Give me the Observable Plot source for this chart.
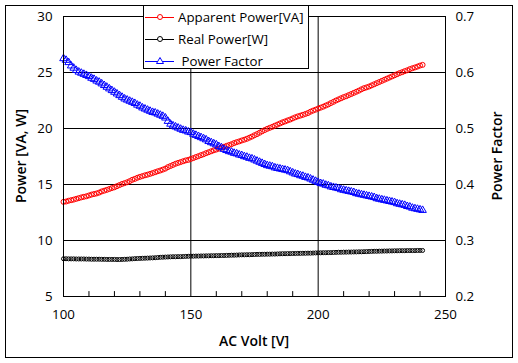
<!DOCTYPE html>
<html>
<head>
<meta charset="utf-8">
<script src="https://cdn.jsdelivr.net/npm/d3@7"></script>
<script src="https://cdn.jsdelivr.net/npm/@observablehq/plot@0.6"></script>
<style>
  body { margin: 0; background: #fff; font-family: "Open Sans", sans-serif; }
  #wrap { position: relative; width: 518px; height: 363px; }
  #border { position: absolute; left: 5px; top: 5px; width: 506px; height: 351px; border: 1px solid #000; pointer-events: none; }
  .title { position: absolute; font-size: 14px; font-weight: 600; color: #000; white-space: nowrap; }
  #legend { position: absolute; left: 143px; top: 5px; width: 164px; height: 62px; border: 1px solid #000; background: #fff; }
  .lg { position: absolute; left: 0; height: 20px; display: flex; align-items: center; font-size: 13.3px; white-space: nowrap; }
</style>
</head>
<body>
<div id="wrap">
  <div id="chart"></div>
  <div id="border"></div>
  <div class="title" id="xt" style="left:0;width:508px;text-align:center;top:331px;">AC Volt [V]</div>
  <div class="title" id="yl" style="left:20px;top:156px;transform:translate(-50%,-50%) rotate(-90deg);">Power [VA, W]</div>
  <div class="title" id="yr" style="left:496px;top:156px;transform:translate(-50%,-50%) rotate(-90deg);">Power Factor</div>
  <div id="legend"></div>
</div>
<script>
const volts = [100,101,102,103,104,105,106,107,108,109,110,111,112,113,114,115,116,117,118,119,120,121,122,123,124,125,126,127,128,129,130,131,132,133,134,135,136,137,138,139,140,141,142,143,144,145,146,147,148,149,150,151,152,153,154,155,156,157,158,159,160,161,162,163,164,165,166,167,168,169,170,171,172,173,174,175,176,177,178,179,180,181,182,183,184,185,186,187,188,189,190,191,192,193,194,195,196,197,198,199,200,201,202,203,204,205,206,207,208,209,210,211,212,213,214,215,216,217,218,219,220,221,222,223,224,225,226,227,228,229,230,231,232,233,234,235,236,237,238,239,240,241];
const apparentPower = [13.45,13.48,13.55,13.6,13.65,13.72,13.78,13.85,13.9,13.95,14.02,14.1,14.15,14.2,14.28,14.38,14.45,14.52,14.6,14.68,14.75,14.85,14.95,15.05,15.12,15.2,15.3,15.42,15.5,15.6,15.68,15.75,15.82,15.88,15.95,16.02,16.1,16.18,16.25,16.33,16.42,16.55,16.65,16.75,16.85,16.93,17.0,17.08,17.15,17.2,17.28,17.36,17.45,17.53,17.62,17.7,17.8,17.88,17.97,18.05,18.12,18.2,18.28,18.37,18.45,18.52,18.6,18.7,18.78,18.85,18.93,19.0,19.08,19.18,19.28,19.4,19.5,19.62,19.75,19.86,19.97,20.06,20.15,20.25,20.35,20.45,20.55,20.63,20.72,20.8,20.9,21.0,21.08,21.15,21.22,21.3,21.38,21.5,21.6,21.68,21.78,21.86,21.95,22.05,22.15,22.27,22.38,22.5,22.6,22.7,22.8,22.88,22.98,23.08,23.18,23.28,23.38,23.5,23.6,23.67,23.75,23.85,23.95,24.05,24.15,24.25,24.35,24.45,24.55,24.65,24.75,24.85,24.95,25.03,25.12,25.2,25.3,25.38,25.45,25.53,25.62,25.68];
const realPower = [8.37,8.37,8.36,8.36,8.36,8.35,8.35,8.35,8.35,8.34,8.34,8.33,8.33,8.33,8.33,8.32,8.32,8.31,8.31,8.31,8.31,8.30,8.30,8.31,8.32,8.33,8.35,8.36,8.38,8.39,8.40,8.41,8.42,8.43,8.44,8.45,8.46,8.48,8.50,8.51,8.52,8.53,8.54,8.55,8.55,8.56,8.56,8.57,8.58,8.59,8.60,8.60,8.61,8.61,8.62,8.62,8.63,8.63,8.64,8.64,8.65,8.65,8.66,8.66,8.67,8.68,8.69,8.69,8.70,8.71,8.72,8.72,8.73,8.73,8.74,8.75,8.76,8.76,8.77,8.77,8.78,8.78,8.79,8.79,8.80,8.81,8.82,8.82,8.83,8.83,8.84,8.84,8.85,8.85,8.86,8.86,8.87,8.87,8.88,8.89,8.90,8.90,8.91,8.91,8.92,8.92,8.93,8.94,8.95,8.95,8.96,8.96,8.97,8.97,8.98,8.98,8.99,8.99,9.00,9.01,9.02,9.03,9.04,9.04,9.05,9.05,9.06,9.06,9.07,9.07,9.08,9.08,9.09,9.09,9.09,9.10,9.10,9.10,9.10,9.11,9.11,9.11];
const powerFactor = [0.625,0.622,0.618,0.612,0.608,0.604,0.601,0.599,0.597,0.595,0.593,0.590,0.588,0.585,0.583,0.580,0.577,0.574,0.571,0.568,0.565,0.562,0.559,0.556,0.553,0.551,0.549,0.547,0.545,0.542,0.540,0.537,0.535,0.533,0.531,0.529,0.528,0.526,0.524,0.522,0.519,0.513,0.508,0.505,0.503,0.501,0.499,0.497,0.496,0.494,0.493,0.490,0.488,0.486,0.484,0.482,0.480,0.477,0.475,0.473,0.471,0.468,0.466,0.463,0.461,0.459,0.458,0.456,0.455,0.453,0.452,0.450,0.449,0.447,0.446,0.444,0.442,0.440,0.438,0.436,0.434,0.433,0.432,0.430,0.429,0.428,0.427,0.426,0.425,0.423,0.421,0.419,0.418,0.416,0.415,0.413,0.412,0.410,0.408,0.406,0.404,0.402,0.401,0.399,0.398,0.396,0.395,0.394,0.393,0.391,0.390,0.389,0.388,0.387,0.386,0.384,0.383,0.382,0.381,0.380,0.379,0.378,0.377,0.375,0.374,0.373,0.372,0.371,0.370,0.369,0.368,0.366,0.365,0.364,0.363,0.361,0.360,0.358,0.357,0.356,0.355,0.354];

const xTicks = [100,150,200,250];
const xMinorTicks = [110,120,130,140,160,170,180,190,210,220,230,240];
const xGrid = [150,200];
const yTicks = [5,10,15,20,25,30];
const yGrid = [10,15,20,25];
const pfTicks = [0.2,0.3,0.4,0.5,0.6,0.7];
const seriesNames = ["Apparent Power[VA]","Real Power[W]"," Power Factor"];
const seriesColors = ["#ff0000","#000000","#0000ff"];

const yDomain = [5,30];
const pfDomain = [0.2,0.7];
const pfToLeft = d3.scaleLinear(pfDomain, yDomain);

const rows = volts.map((v,i) => ({v, ap: apparentPower[i], rp: realPower[i], pf: powerFactor[i]}));

const tickShape = {draw(context, l) { context.moveTo(0, 0); context.lineTo(0, -l); }};

const chart = Plot.plot({
  width: 518, height: 363,
  marginLeft: 63, marginRight: 73, marginTop: 16, marginBottom: 67,
  style: {fontFamily: "Open Sans, sans-serif", fontSize: "13.3px", color: "#000", background: "transparent"},
  x: {domain: [100,250]},
  y: {domain: yDomain},
  marks: [
    Plot.gridY(yGrid, {stroke: "#000", strokeOpacity: 1}),
    Plot.gridX(xGrid, {stroke: "#000", strokeOpacity: 1}),
    Plot.axisY({ticks: yTicks, tickSize: 0, tickPadding: 11, label: null}),
    Plot.axisX({ticks: xTicks, tickSize: 0, tickPadding: 13, label: null}),
    Plot.vector(xMinorTicks, {x: d => d, frameAnchor: "bottom", length: 5, rotate: 0, anchor: "start", shape: tickShape, stroke: "#000", strokeWidth: 1}),
    Plot.text(pfTicks, {y: d => pfToLeft(d), text: d => d.toFixed(1), frameAnchor: "right", textAnchor: "start", dx: 10}),
    Plot.dot(rows, {x: "v", y: "rp", r: 2, stroke: seriesColors[1], fill: "none", strokeWidth: 1}),
    Plot.dot(rows, {x: "v", y: "ap", r: 2.5, stroke: seriesColors[0], fill: "none", strokeWidth: 1}),
    Plot.dot(rows, {x: "v", y: d => pfToLeft(d.pf), r: 2.8, symbol: "triangle", stroke: seriesColors[2], fill: "none", strokeWidth: 1}),
    Plot.frame({stroke: "#000"})
  ]
});
document.getElementById("chart").appendChild(chart);

// legend
const legend = document.getElementById("legend");
const symbols = ["circle","circle","triangle"];
seriesNames.forEach((name, i) => {
  const row = document.createElement("div");
  row.className = "lg";
  row.style.top = (1 + i * 22) + "px";
  const sym = symbols[i] === "circle"
    ? `<circle cx="16" cy="10" r="2.5" fill="#fff" stroke="${seriesColors[i]}"/>`
    : `<path d="M16,6.5 L19.5,12.5 L12.5,12.5 Z" fill="#fff" stroke="${seriesColors[i]}"/>`;
  row.innerHTML = `<svg width="34" height="20" style="flex:none"><line x1="1" y1="10.5" x2="30" y2="10.5" stroke="${seriesColors[i]}"/>${sym}</svg><span style="white-space:pre">${name}</span>`;
  legend.appendChild(row);
});
</script>
</body>
</html>
